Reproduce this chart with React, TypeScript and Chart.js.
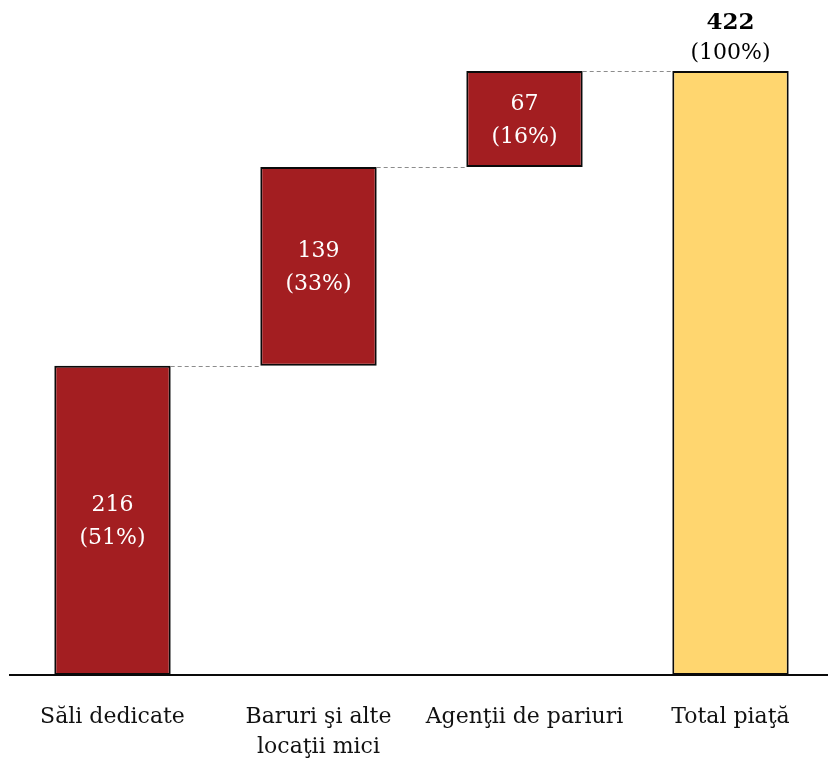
import React, { useEffect, useRef } from "react";
import { Chart, registerables } from "chart.js";

Chart.register(...registerables);

const categories: (string | string[])[] = [
  "Săli dedicate",
  ["Baruri şi alte", "locaţii mici"],
  "Agenţii de pariuri",
  "Total piaţă",
];
const values: number[] = [216, 139, 67, 422];
const shares: string[] = ["51%", "33%", "16%", "100%"];
const isTotal: boolean[] = [false, false, false, true];

const RED = "#A31E21";
const YELLOW = "#FFD66F";
const FONT = "'DejaVu Serif', serif";

export default function App() {
  const ref = useRef<HTMLCanvasElement | null>(null);

  useEffect(() => {
    if (!ref.current) return;
    // build floating ranges from the values
    let run = 0;
    const ranges: [number, number][] = values.map((v, i) => {
      if (isTotal[i]) return [0, v];
      const r: [number, number] = [run, run + v];
      run += v;
      return r;
    });

    const labelPlugin = {
      id: "wfLabels",
      afterDatasetsDraw(chart: any) {
        const { ctx, scales } = chart;
        const meta = chart.getDatasetMeta(0);
        const y = scales.y;
        ctx.save();
        // dashed connectors
        ctx.strokeStyle = "#8c8c8c";
        ctx.lineWidth = 1;
        ctx.setLineDash([4, 3]);
        for (let i = 0; i < meta.data.length - 1; i++) {
          const a = meta.data[i];
          const b = meta.data[i + 1];
          const py = Math.round(y.getPixelForValue(ranges[i][1])) + 0.5;
          ctx.beginPath();
          ctx.moveTo(a.x + a.width / 2, py);
          ctx.lineTo(b.x - b.width / 2, py);
          ctx.stroke();
        }
        ctx.setLineDash([]);
        // value labels
        ctx.textAlign = "center";
        ctx.textBaseline = "middle";
        meta.data.forEach((bar: any, i: number) => {
          const top = y.getPixelForValue(ranges[i][1]);
          const bottom = y.getPixelForValue(ranges[i][0]);
          if (isTotal[i]) {
            ctx.fillStyle = "#000";
            ctx.font = `bold 23px ${FONT}`;
            ctx.fillText(String(values[i]), bar.x, top - 48);
            ctx.font = `22px ${FONT}`;
            ctx.fillText(`(${shares[i]})`, bar.x, top - 18);
          } else {
            const mid = (top + bottom) / 2;
            ctx.fillStyle = "#fff";
            ctx.font = `22px ${FONT}`;
            ctx.fillText(String(values[i]), bar.x, mid - 15);
            ctx.fillText(`(${shares[i]})`, bar.x, mid + 18);
          }
        });
        ctx.restore();
      },
    };

    const chart = new Chart(ref.current, {
      type: "bar",
      data: {
        labels: categories,
        datasets: [
          {
            data: ranges as any,
            backgroundColor: isTotal.map((t) => (t ? YELLOW : RED)),
            borderColor: "#0a0a0a",
            borderWidth: 2,
            borderSkipped: false,
            categoryPercentage: 1,
            barPercentage: 0.565,
          },
        ],
      },
      options: {
        animation: false,
        responsive: true,
        maintainAspectRatio: false,
        layout: { padding: { left: 9.5, right: 6.5, top: 71, bottom: 0 } },
        plugins: {
          legend: { display: false },
          tooltip: { enabled: false },
        },
        scales: {
          x: {
            grid: { display: false, drawTicks: false },
            border: { display: true, color: "#0a0a0a", width: 2 },
            ticks: {
              color: "#111",
              font: { family: FONT, size: 22, lineHeight: 1.36 },
              padding: 27,
              maxRotation: 0,
              autoSkip: false,
            },
            afterFit(scale: any) {
              scale.height = 85;
            },
          },
          y: {
            display: false,
            min: 0,
            max: 422,
          },
        },
      },
      plugins: [labelPlugin],
    });
    return () => chart.destroy();
  }, []);

  return (
    <div
      style={{
        position: "absolute",
        left: 0,
        top: 0,
        width: 828,
        height: 760,
        overflow: "hidden",
        background: "#fff",
      }}
    >
      <div style={{ position: "relative", width: 840, height: 760 }}>
        <canvas ref={ref} />
      </div>
    </div>
  );
}
